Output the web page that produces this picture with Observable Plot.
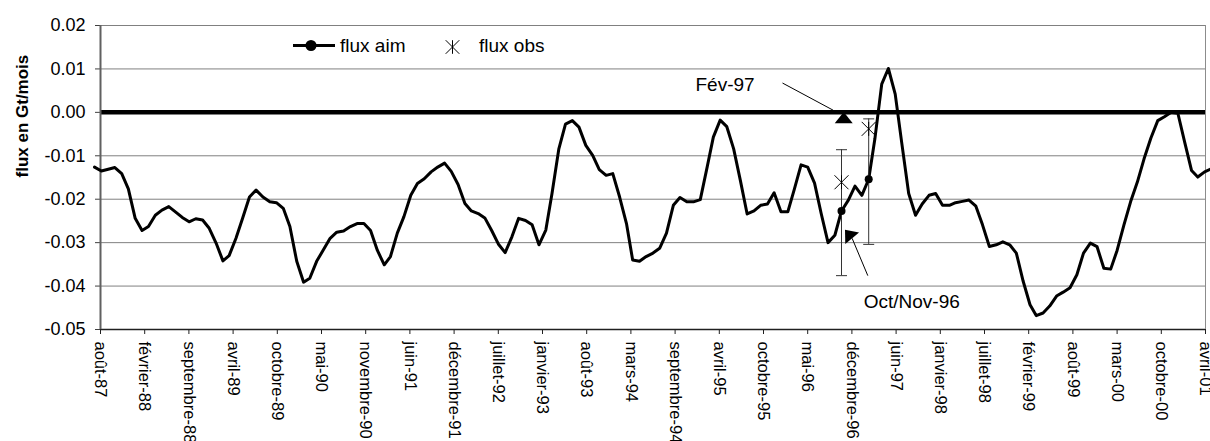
<!DOCTYPE html>
<html>
<head>
<meta charset="utf-8">
<script src="https://cdn.jsdelivr.net/npm/d3@7"></script>
<script src="https://cdn.jsdelivr.net/npm/@observablehq/plot@0.6"></script>
<style>
  body { margin: 0; background: #fff; }
  svg { font-family: "Liberation Sans", Arial, sans-serif; background: #fff; }
</style>
</head>
<body>
<div id="chart"></div>
<script>
// ---------- DATA ----------
// monthly "flux aim" values (Gt/mois), first value July 1987 (mid-month)
const seriesStart = "1987-07-15";
const fluxAim = [
  -0.0126, -0.0135, -0.0131, -0.0127, -0.0141, -0.0176, -0.0244, -0.0272, -0.0263, -0.0237,
  -0.0225, -0.0217, -0.0229, -0.0242, -0.0252, -0.0245, -0.0248, -0.0267, -0.0301, -0.0342,
  -0.0330, -0.0290, -0.0244, -0.0195, -0.0179, -0.0195, -0.0206, -0.0208, -0.0221, -0.0263,
  -0.0343, -0.0391, -0.0382, -0.0343, -0.0317, -0.0290, -0.0276, -0.0273, -0.0263, -0.0256,
  -0.0256, -0.0272, -0.0318, -0.0351, -0.0332, -0.0278, -0.0240, -0.0191, -0.0164, -0.0153,
  -0.0137, -0.0126, -0.0117, -0.0136, -0.0166, -0.0210, -0.0227, -0.0233, -0.0243, -0.0272,
  -0.0303, -0.0323, -0.0286, -0.0244, -0.0249, -0.0259, -0.0305, -0.0271, -0.0187, -0.0084,
  -0.0027, -0.0019, -0.0034, -0.0076, -0.0099, -0.0132, -0.0145, -0.0141, -0.0195, -0.0256,
  -0.0340, -0.0343, -0.0332, -0.0324, -0.0313, -0.0278, -0.0214, -0.0196, -0.0206, -0.0206,
  -0.0201, -0.0126, -0.0057, -0.0018, -0.0033, -0.0084, -0.0156, -0.0234, -0.0227, -0.0214,
  -0.0211, -0.0185, -0.0229, -0.0229, -0.0178, -0.0121, -0.0126, -0.0163, -0.0233, -0.0300,
  -0.0283, -0.0227, -0.0202, -0.0170, -0.0191, -0.0154, -0.0061,  0.0065,  0.0101,  0.0042,
  -0.0072, -0.0187, -0.0237, -0.0211, -0.0191, -0.0187, -0.0214, -0.0214, -0.0208, -0.0205,
  -0.0202, -0.0216, -0.0259, -0.0309, -0.0305, -0.0298, -0.0305, -0.0324, -0.0389, -0.0443,
  -0.0468, -0.0462, -0.0446, -0.0423, -0.0414, -0.0404, -0.0374, -0.0324, -0.0301, -0.0309,
  -0.0359, -0.0361, -0.0318, -0.0259, -0.0206, -0.0160, -0.0107, -0.0059, -0.0019, -0.0010,
   0.0000, -0.0002, -0.0069, -0.0134, -0.0149, -0.0137, -0.0130
];

// observations (flux obs) with error bars, and model values (flux aim) at the same dates
const obsDates  = ["1996-10-15", "1997-02-15"];
const obsValues = [-0.0161, -0.0038];
const obsLow    = [-0.0376, -0.0304];
const obsHigh   = [-0.0086, -0.0015];
const aimValues = [-0.0227, -0.0154];

// annotations
const noteLabels = ["Fév-97", "Oct/Nov-96"];
const noteTextDates = ["1995-05-07", "1997-08-29"];
const noteTextValues = [0.0063, -0.0437];
const noteArrowFromDates = ["1996-01-22", "1997-02-11"];
const noteArrowFromValues = [0.00675, -0.0376];
const noteArrowToDates = ["1996-09-07", "1996-12-02"];
const noteArrowToValues = [0.0005, -0.0290];
const noteHeadDates = ["1996-10-25", "1996-11-16"];
const noteHeadValues = [-0.0012, -0.0280];
const noteHeadRotate = [0, -40];

// axes
const axisStart = "1987-08-11";   // date axis, major unit 200 days
const tickStepDays = 200;
const tickLabels = [
  "août-87", "février-88", "septembre-88", "avril-89", "octobre-89", "mai-90",
  "novembre-90", "juin-91", "décembre-91", "juillet-92", "janvier-93", "août-93",
  "mars-94", "septembre-94", "avril-95", "octobre-95", "mai-96", "décembre-96",
  "juin-97", "janvier-98", "juillet-98", "février-99", "août-99", "mars-00",
  "octobre-00", "avril-01"
];
const yTicks = [-0.05, -0.04, -0.03, -0.02, -0.01, 0.00, 0.01, 0.02];
const yTitle = "flux en Gt/mois";
const legendLabels = ["flux aim", "flux obs"];

// ---------- BUILD ----------
const parse = d3.utcParse("%Y-%m-%d");
const t0 = parse(axisStart);
const tickDates = tickLabels.map((_, i) => d3.utcDay.offset(t0, tickStepDays * i));
const xDomain = [t0, tickDates[tickDates.length - 1]];
const s0 = parse(seriesStart);
const lineData = fluxAim.map((v, i) => ({date: d3.utcMonth.offset(s0, i), value: v}));
const obs = obsDates.map((d, i) => ({
  date: parse(d), value: obsValues[i], low: obsLow[i], high: obsHigh[i], aim: aimValues[i]
}));
const notes = noteLabels.map((l, i) => ({
  label: l,
  tx: parse(noteTextDates[i]), ty: noteTextValues[i],
  x1: parse(noteArrowFromDates[i]), y1: noteArrowFromValues[i],
  x2: parse(noteArrowToDates[i]), y2: noteArrowToValues[i],
  hx: parse(noteHeadDates[i]), hy: noteHeadValues[i], rot: noteHeadRotate[i]
}));

const hline = {draw(ctx, size) { const r = Math.sqrt(size / Math.PI); ctx.moveTo(-r, 0); ctx.lineTo(r, 0); }};
const star = {draw(ctx, size) {
  const r = Math.sqrt(size / Math.PI);
  ctx.moveTo(-r, -r); ctx.lineTo(r, r);
  ctx.moveTo(-r, r); ctx.lineTo(r, -r);
  ctx.moveTo(0, -r); ctx.lineTo(0, r);
}};
const flatTri = {draw(ctx, size) {
  const r = Math.sqrt(size / Math.PI);
  ctx.moveTo(0, -0.62 * r); ctx.lineTo(r, 0.62 * r); ctx.lineTo(-r, 0.62 * r); ctx.closePath();
}};

const fmtTick = d => {
  const i = tickDates.findIndex(t => +t === +d);
  return i >= 0 ? tickLabels[i] : "";
};

const chart = Plot.plot({
  width: 1210,
  height: 441,
  marginLeft: 100,
  marginRight: 5,
  marginTop: 25,
  marginBottom: 112,
  style: {fontFamily: "'Liberation Sans', Arial, sans-serif", background: "#fff", color: "#000"},
  x: {type: "utc", domain: xDomain},
  y: {domain: [-0.05, 0.02]},
  marks: [
    Plot.gridY(yTicks.filter(v => v > -0.05), {stroke: "#808080", strokeOpacity: 1, strokeWidth: 1}),
    Plot.ruleX([xDomain[1]], {stroke: "#8c8c8c", strokeWidth: 1}),
    Plot.ruleY([0], {stroke: "#000", strokeWidth: 4.5}),
    Plot.axisY({ticks: yTicks, tickFormat: d => d.toFixed(2), tickSize: 5, tickPadding: 10,
      fontSize: 18, label: null, stroke: "#404040"}),
    Plot.axisX({ticks: tickDates, tickFormat: fmtTick, tickRotate: 90, tickSize: 5, tickPadding: 7,
      fontSize: 16.5, label: null, stroke: "#202020"}),
    Plot.ruleY([-0.05], {stroke: "#202020", strokeWidth: 1.5}),
    Plot.ruleX([xDomain[0]], {stroke: "#606060", strokeWidth: 2}),
    Plot.text([yTitle], {frameAnchor: "left", dx: -78, rotate: -90, text: d => d,
      fontWeight: "bold", fontSize: 17, fill: "#000"}),
    // series line
    Plot.line(lineData, {x: "date", y: "value", stroke: "#000", strokeWidth: 3, strokeLinejoin: "round"}),
    // error bars
    Plot.ruleX(obs, {x: "date", y1: "low", y2: "high", stroke: "#333", strokeWidth: 1}),
    Plot.dot(obs, {x: "date", y: "low", symbol: hline, r: 5.5, stroke: "#333", strokeWidth: 1}),
    Plot.dot(obs, {x: "date", y: "high", symbol: hline, r: 5.5, stroke: "#333", strokeWidth: 1}),
    Plot.dot(obs, {x: "date", y: "value", symbol: star, r: 7, stroke: "#000", strokeWidth: 1}),
    Plot.dot(obs, {x: "date", y: "aim", r: 4, fill: "#000", stroke: null}),
    // annotations
    Plot.link(notes, {x1: "x1", y1: "y1", x2: "x2", y2: "y2", stroke: "#000", strokeWidth: 1}),
    Plot.dot(notes, {x: "hx", y: "hy", symbol: flatTri, r: 9, fill: "#000", stroke: null, rotate: "rot"}),
    Plot.text(notes, {x: "tx", y: "ty", text: "label", fontSize: 19, fontWeight: "normal", fill: "#000"})
  ]
});

// legend inside the plot area (top)
const svg = d3.select(chart);
const lg = svg.append("g").attr("font-size", 19).attr("fill", "#000").attr("text-anchor", "start");
lg.append("line").attr("x1", 293).attr("x2", 335).attr("y1", 45.5).attr("y2", 45.5)
  .attr("stroke", "#000").attr("stroke-width", 3);
lg.append("circle").attr("cx", 311).attr("cy", 45.5).attr("r", 5.5).attr("fill", "#000");
lg.append("text").attr("x", 340).attr("y", 52).attr("text-anchor", "start").text(legendLabels[0]);
const s = 6.8, cx = 452.5, cy = 47;
lg.append("path").attr("d",
  `M${cx - s},${cy - s}L${cx + s},${cy + s}M${cx - s},${cy + s}L${cx + s},${cy - s}M${cx},${cy - s}L${cx},${cy + s}`)
  .attr("stroke", "#000").attr("stroke-width", 1).attr("fill", "none");
lg.append("text").attr("x", 479).attr("y", 52).attr("text-anchor", "start").text(legendLabels[1]);

document.getElementById("chart").appendChild(chart);
</script>
</body>
</html>
